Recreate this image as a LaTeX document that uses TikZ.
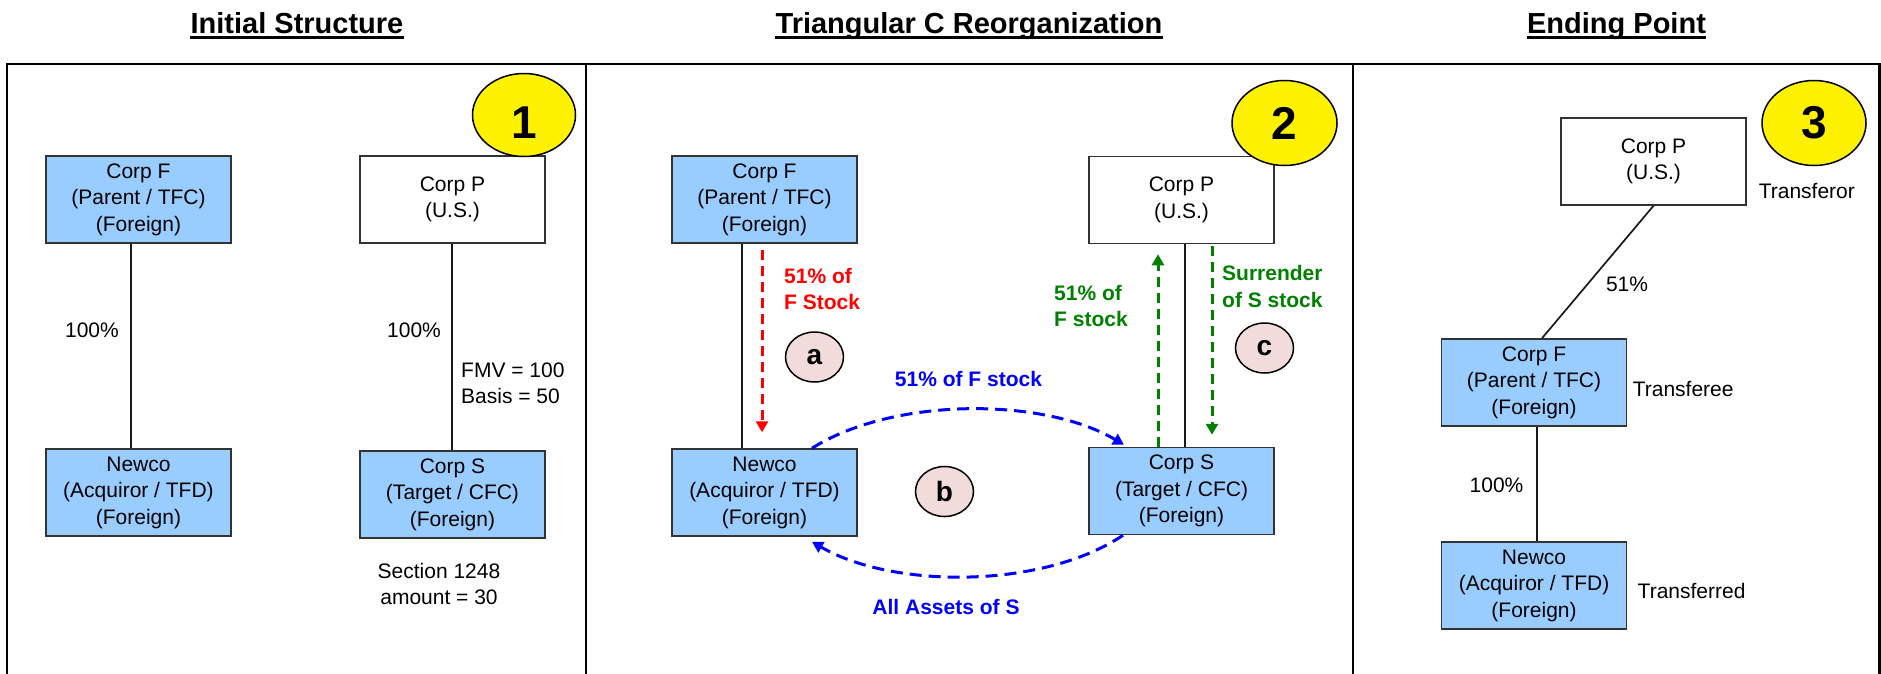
\documentclass[tikz,border=0pt]{standalone}
\usepackage{fontspec}
\setmainfont{Liberation Sans}
\usetikzlibrary{shapes.geometric,arrows.meta}
\definecolor{boxblue}{HTML}{99CCFF}
\definecolor{pinkfill}{HTML}{F2DCDB}
\definecolor{dkgreen}{HTML}{008000}
\begin{document}
\begin{tikzpicture}[x=1pt,y=-1pt,
  every node/.style={font=\fontsize{21}{26.5}\selectfont, inner sep=0pt},
  entity/.style={draw=black!80, line width=1.5pt, minimum width=185pt, minimum height=87pt, align=center},
  fbox/.style={entity, fill=boxblue},
  wbox/.style={entity, fill=white},
  ownline/.style={draw=black!90, line width=1.7pt},
  frameline/.style={line width=2.5pt},
  ttl/.style={font=\fontsize{29}{34}\selectfont\bfseries, anchor=base},
  ulinestyle/.style={line width=2.2pt},
  numell/.style={ellipse, draw=black, line width=1.5pt, fill=yellow, font=\fontsize{46}{46}\selectfont\bfseries},
  letell/.style={ellipse, draw=black, line width=1.5pt, fill=pinkfill, minimum width=58pt, minimum height=50pt, font=\fontsize{28}{28}\selectfont\bfseries},
  flowarrow/.style={line width=3pt, dash pattern=on 10pt off 6pt, -{Triangle[length=11pt,width=12pt]}},
  lbl/.style={font=\fontsize{21}{26.5}\selectfont\bfseries, align=left, anchor=west},
  side/.style={anchor=west},
]
\useasboundingbox (0,0) rectangle (1881,673);
% frame
\draw[frameline] (7,680) -- (7,64) -- (1879.5,64) -- (1879.5,680);
\draw[frameline] (586,64) -- (586,680);
\draw[frameline] (1353,64) -- (1353,680);
% titles
\node[ttl] (t1) at (297,33) {Initial Structure};
\draw[ulinestyle] ([yshift=-4.5pt]t1.base west) -- ([yshift=-4.5pt]t1.base east);
\node[ttl] (t2) at (969,33) {Triangular C Reorganization};
\draw[ulinestyle] ([yshift=-4.5pt]t2.base west) -- ([yshift=-4.5pt]t2.base east);
\node[ttl] (t3) at (1616.5,33) {Ending Point};
\draw[ulinestyle] ([yshift=-4.5pt]t3.base west) -- ([yshift=-4.5pt]t3.base east);

% ---------- panel 1
\node[fbox] (F1) at (138.5,199.5) {Corp F\\(Parent / TFC)\\(Foreign)};
\node[fbox] (N1) at (138.5,492.5) {Newco\\(Acquiror / TFD)\\(Foreign)};
\node[wbox] (P1) at (452.5,199.5) {Corp P\\(U.S.)};
\node[fbox] (S1) at (452.5,494.5) {Corp S\\(Target / CFC)\\(Foreign)};
\draw[ownline] ([xshift=-7.5pt]F1.south) -- ([xshift=-7.5pt]N1.north);
\draw[ownline] ([xshift=-0.5pt]P1.south) -- ([xshift=-0.5pt]S1.north);
\node (p1a) at (92,330) {100\%};
\node (p1b) at (414,330) {100\%};
\node[anchor=west, align=left] (fmv) at (461,383.5) {FMV = 100\\Basis = 50};
\node[align=center] (sec) at (439,584) {Section 1248\\amount = 30};
\node[numell, minimum width=103pt, minimum height=83pt] (e1) at (524,115) {\raisebox{-23.5pt}[0pt][0pt]{1}};

% ---------- panel 2
\node[fbox] (F2) at (764.5,199.5) {Corp F\\(Parent / TFC)\\(Foreign)};
\node[fbox] (N2) at (764.5,492.5) {Newco\\(Acquiror / TFD)\\(Foreign)};
\node[wbox] (P2) at (1181.5,200) {Corp P\\(U.S.)};
\node[fbox] (S2) at (1181.5,491) {Corp S\\(Target / CFC)\\(Foreign)};
\draw[ownline] ([xshift=-22.5pt]F2.south) -- ([xshift=-22.5pt]N2.north);
\draw[ownline] ([xshift=3.5pt]P2.south) -- ([xshift=3.5pt]S2.north);
\node[numell, minimum width=105pt, minimum height=85pt] (e2) at (1284.5,123) {2};

\draw[flowarrow, red, shorten <=6pt, shorten >=16pt] ([xshift=-2.5pt]F2.south) -- ([xshift=-2.5pt]N2.north);
\node[lbl, text=red] (ra) at (784,289) {51\% of\\F Stock};
\node[letell] (la) at (814.5,357) {a};

\draw[flowarrow, dkgreen, shorten >=10pt] ([xshift=-23.5pt]S2.north) -- ([xshift=-23.5pt]P2.south);
\draw[flowarrow, dkgreen, shorten <=1.5pt, shorten >=12pt] ([xshift=30.5pt]P2.south) -- ([xshift=30.5pt]S2.north);
\node[lbl, text=dkgreen] (ga) at (1054,306) {51\% of\\F stock};
\node[lbl, text=dkgreen] (gb) at (1222,286.5) {Surrender\\of S stock};
\node[letell] (lc) at (1264.5,348) {c};

\draw[flowarrow, blue, dash pattern=on 12pt off 7pt] ([xshift=47.5pt]N2.north) .. controls (893,397) and (1043,397) .. ([xshift=-57.5pt,yshift=2pt]S2.north);
\draw[flowarrow, blue, dash pattern=on 12pt off 7pt] ([xshift=-58.5pt]S2.south) .. controls (1043,589) and (893,589) .. ([xshift=47.5pt,yshift=-5pt]N2.south);
\node[font=\fontsize{21}{26.5}\selectfont\bfseries, text=blue] (bt) at (968.5,379) {51\% of F stock};
\node[font=\fontsize{21}{26.5}\selectfont\bfseries, text=blue] (bb) at (946,607) {All Assets of S};
\node[letell] (lb) at (944.5,491.5) {b};

% ---------- panel 3
\node[wbox] (P3) at (1653.5,161.5) {Corp P\\(U.S.)};
\node[fbox] (F3) at (1534,382.5) {Corp F\\(Parent / TFC)\\(Foreign)};
\node[fbox] (N3) at (1534,585.5) {Newco\\(Acquiror / TFD)\\(Foreign)};
\draw[ownline] (P3.south) -- ([xshift=8pt]F3.north);
\draw[ownline] ([xshift=3pt]F3.south) -- ([xshift=3pt]N3.north);
\node (p3a) at (1627,284) {51\%};
\node (p3b) at (1496.5,485) {100\%};
\node[side] (tr1) at (1758.6,191) {Transferor};
\node[side] (tr2) at (1632.6,389) {Transferee};
\node[side] (tr3) at (1637.5,591) {Transferred};
\node[numell, minimum width=104pt, minimum height=85pt] (e3) at (1814,123) {3};
\end{tikzpicture}
\end{document}
